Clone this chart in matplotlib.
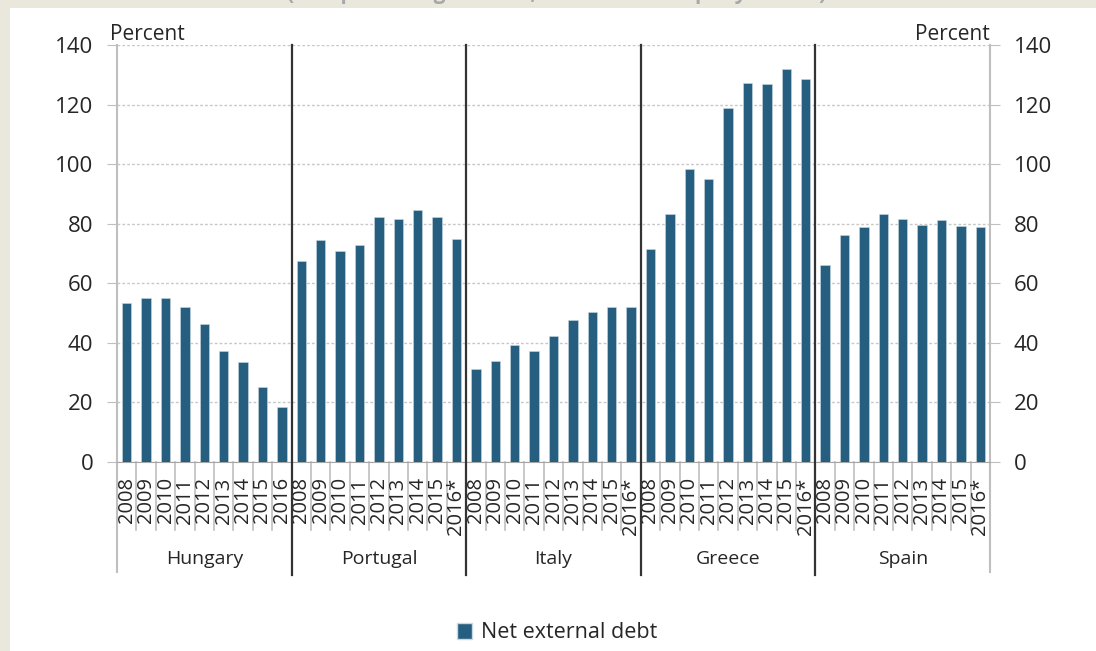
import numpy as np
import matplotlib
matplotlib.use('Agg')
import matplotlib.pyplot as plt
from matplotlib.patches import Rectangle, Patch
from matplotlib.transforms import blended_transform_factory

plt.rcParams['font.family'] = ['Open Sans', 'DejaVu Sans']

countries = ['Hungary', 'Portugal', 'Italy', 'Greece', 'Spain']
years_hu = ['2008', '2009', '2010', '2011', '2012', '2013', '2014', '2015', '2016']
years_other = ['2008', '2009', '2010', '2011', '2012', '2013', '2014', '2015', '2016*']

hungary = [53.5, 55.2, 55.2, 52.2, 46.3, 37.2, 33.7, 25.3, 18.5]
portugal = [67.6, 74.5, 70.8, 73.0, 82.1, 81.5, 84.7, 82.3, 74.9]
italy = [31.3, 34.0, 39.2, 37.2, 42.3, 47.8, 50.2, 52.2, 52.0]
greece = [71.5, 83.1, 98.5, 95.0, 118.7, 127.3, 127.0, 131.9, 128.6]
spain = [66.2, 76.3, 78.8, 83.1, 81.5, 79.6, 81.4, 79.4, 78.8]

series = [hungary, portugal, italy, greece, spain]
year_labels = [years_hu, years_other, years_other, years_other, years_other]

BAR = '#255e7e'
TXT = '#262626'
GRID = '#c8c8c8'
SPINE = '#bfbfbf'

values = np.concatenate(series)
labels = [y for ys in year_labels for y in ys]
n = len(values)
pos = np.arange(n) + 0.5

fig = plt.figure(figsize=(10.96, 6.51), dpi=100)
fig.patch.set_facecolor('#eae7dc')
fig.patches.append(Rectangle((10 / 1096, 0), 1, 1 - 8 / 651, transform=fig.transFigure,
                             facecolor='white', edgecolor='none', zorder=-10))
# title of the original slide, mostly outside the visible area
fig.text(557 / 1096, 1 + 6 / 651, '(as a percentage of GDP, in current company values)',
         ha='center', va='center', fontsize=15, fontweight='bold', color='#a8a8a8', zorder=-5)

ax = fig.add_axes([117 / 1096, 1 - 462 / 651, 873 / 1096, 417 / 651])
ax.set_facecolor('none')
ax.bar(pos, values, width=0.48, color=BAR, edgecolor='#c9d9e3', linewidth=0.4, zorder=3)

ax.set_xlim(0, n)
ax.set_ylim(0, 140)
ax.set_yticks(np.arange(0, 141, 20))
ax.yaxis.grid(True, color=GRID, linestyle=(0, (2, 1.5)), linewidth=1, zorder=0)
ax.tick_params(axis='y', which='both', left=True, right=True, labelleft=True, labelright=True,
               direction='out', length=7, color=SPINE, labelsize=16, labelcolor=TXT, pad=10)

ax.set_xticks(pos)
ax.set_xticklabels(labels, rotation=90, fontsize=14.5, color=TXT)
ax.tick_params(axis='x', length=0, pad=11)

ax.spines['top'].set_visible(False)
ax.spines['bottom'].set_color('#a6a6a6')
ax.spines['left'].set_color(SPINE)
ax.spines['right'].set_color(SPINE)
ax.spines['left'].set_linewidth(1.5)
ax.spines['right'].set_linewidth(1.5)

trans = blended_transform_factory(ax.transData, ax.transAxes)
# separators between years
for x in range(1, n):
    ax.plot([x, x], [0, -0.163], transform=trans, color=SPINE, lw=1.2, clip_on=False, zorder=1)
# outer edges of the category axis
for x in [0, n]:
    ax.plot([x, x], [0, -0.264], transform=trans, color=SPINE, lw=1.5, clip_on=False, zorder=1)

start = 0
for c, vals in zip(countries, series):
    k = len(vals)
    ax.text(start + k / 2, -0.233, c, transform=trans, ha='center', va='center',
            fontsize=14, color=TXT)
    if start > 0:
        ax.plot([start, start], [1, -0.271], transform=trans, color='#333333', lw=1.6,
                clip_on=False, zorder=4)
    start += k

ax.text(-0.008, 1.0, 'Percent', transform=ax.transAxes, ha='left', va='bottom',
        fontsize=15, color=TXT)
ax.text(1.0, 1.0, 'Percent', transform=ax.transAxes, ha='right', va='bottom',
        fontsize=15, color=TXT)

fig.legend(handles=[Patch(facecolor=BAR, edgecolor='#c9d9e3', label='Net external debt')],
           loc='center', bbox_to_anchor=(557 / 1096, 1 - 633 / 651), frameon=False,
           fontsize=15.5, handlelength=0.7, handleheight=0.7, handletextpad=0.4,
           labelcolor=TXT)

fig.savefig('out.png', dpi=100, facecolor=fig.get_facecolor())
